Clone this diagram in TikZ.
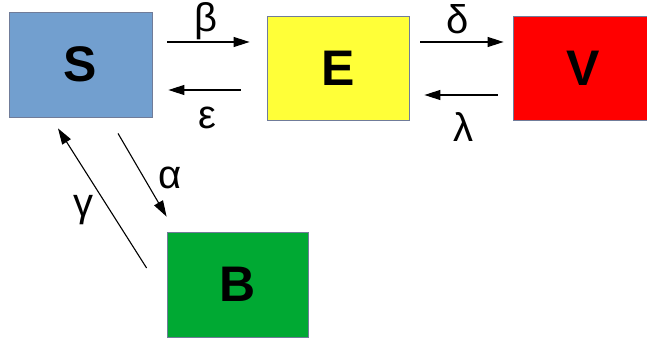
\documentclass[tikz,border=0pt]{standalone}
\usepackage{fontspec}
\setmainfont{Liberation Sans}
\usetikzlibrary{arrows.meta,calc}
\definecolor{sblue}{HTML}{729FCF}
\definecolor{eyellow}{HTML}{FFFF38}
\definecolor{vred}{HTML}{FF0000}
\definecolor{bgreen}{HTML}{00A933}
\definecolor{rim}{HTML}{707C99}
\begin{document}
\begin{tikzpicture}[x=1pt, y=-1pt,
    box/.style={draw=rim, line width=0.8pt, minimum width=142pt, minimum height=104pt, inner sep=0pt, font=\fontsize{50}{50}\selectfont\bfseries},
    rate/.style={line width=1.1pt, -{Triangle[length=16pt,width=10pt]}},
    greek/.style={inner sep=0pt, font=\fontsize{40}{40}\selectfont}]
    \useasboundingbox (0, 0) rectangle (647, 339);
    \node[box, fill=sblue, minimum width=143pt, minimum height=105pt] (S) at (80.5, 64.5) {S};
    \node[box, fill=eyellow] (E) at (338, 68.5) {E};
    \node[box, fill=vred, minimum width=140pt] (V) at (583, 68.5) {V};
    \node[box, fill=bgreen, minimum width=141pt, minimum height=105pt] (B) at (237.5, 284.5) {B};
    \draw[rate] ($(S.east)+(15, -22.5)$) -- ($(E.west)+(-17, -26.5)$);
    \draw[rate] ($(E.west)+(-26, 21.5)$) -- ($(S.east)+(16, 25.5)$);
    \draw[rate] ($(E.east)+(11, -26.5)$) -- ($(V.west)+(-9, -26.5)$);
    \draw[rate] ($(V.west)+(-15, 26.5)$) -- ($(E.east)+(15, 26.5)$);
    \draw[rate] ($(B.west)+(-20, -16.5)$) -- ($(S.south)+(-22.5, 11)$);
    \draw[rate] ($(S.south)+(37.5, 16)$) -- ($(B.north west)+(0, -15)$);
    \node[greek] (beta) at (206, 21) {β};
    \node[greek] (epsilon) at (207, 118) {ε};
    \node[greek] (delta) at (458, 19) {δ};
    \node[greek] (lambda) at (463, 127) {λ};
    \node[greek] (gamma) at (83, 210) {γ};
    \node[greek] (alpha) at (170, 178) {α};
\end{tikzpicture}
\end{document}
